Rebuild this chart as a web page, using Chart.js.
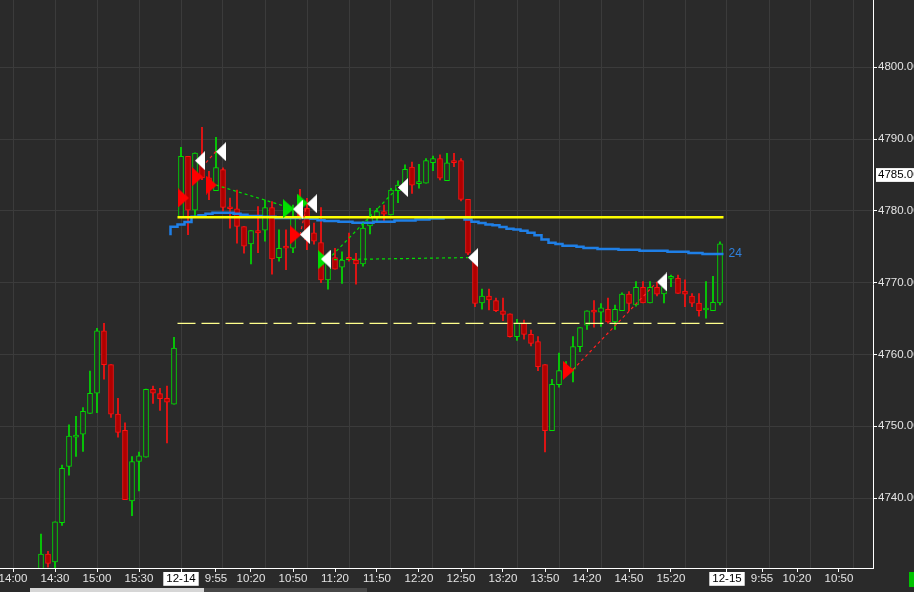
<!DOCTYPE html>
<html>
<head>
<meta charset="utf-8">
<title>5m chart</title>
<script src="https://cdn.jsdelivr.net/npm/chart.js@4.4.1/dist/chart.umd.min.js"></script>
<style>
  html, body { margin: 0; padding: 0; background: #2a2a2a; overflow: hidden; }
  #wrap { width: 914px; height: 592px; position: relative; }
</style>
</head>
<body>
<div id="wrap"><canvas id="grafico"></canvas></div>
<script>
// 5 minute bars. x is the bar number: 0 = 14:00 on 12-13, 24 = 9:30 on 12-14, 102 = 9:30 on 12-15
const firstBar = 4;
const opens = [
  4729.0, 4732.2, 4731.1, 4736.6, 4744.4, 4748.5, 4748.9, 4751.8, 4754.6, 4763.3,
  4758.6, 4751.7, 4749.45, 4739.6, 4745.1, 4745.7, 4755.15, 4754.55, 4753.9, 4753.1,
  4779.1, 4787.6, 4780.1, 4786.4, 4784.6, 4782.8, 4785.75, 4780.5, 4780.3, 4777.8,
  4775.4, 4777.25, 4777.3, 4780.45, 4773.5, 4775.1, 4774.8, 4780.2, 4780.35, 4776.95,
  4775.6, 4770.4, 4773.5, 4772.15, 4773.55, 4773.15, 4772.6, 4777.9, 4779.2, 4779.9,
  4779.45, 4782.8, 4783.45, 4786.1, 4783.8, 4783.85, 4786.7, 4787.3, 4784.2, 4787.0,
  4787.0, 4781.6, 4773.85, 4767.2, 4768.15, 4767.5, 4766.1, 4765.65, 4762.5, 4764.35,
  4762.8, 4761.8, 4758.6, 4749.4, 4755.8, 4757.9, 4757.95, 4761.1, 4764.1, 4766.2,
  4765.9, 4766.3, 4764.55, 4766.1, 4768.4, 4766.9, 4769.35, 4767.2, 4769.35, 4768.45,
  4770.6, 4770.6, 4768.85, 4768.15, 4767.15, 4766.2, 4766.1, 4767.2
];
const highs = [
  4735.0, 4732.6, 4736.7, 4744.6, 4750.2, 4751.4, 4752.6, 4757.7, 4763.65, 4764.35,
  4758.6, 4753.9, 4750.5, 4745.8, 4746.4, 4755.2, 4755.6, 4755.3, 4755.6, 4762.4,
  4788.85, 4787.6, 4788.1, 4791.65, 4785.5, 4790.25, 4786.0, 4781.8, 4782.9, 4777.8,
  4777.25, 4780.6, 4781.5, 4781.3, 4777.35, 4777.35, 4780.8, 4783.0, 4781.75, 4778.3,
  4780.45, 4773.8, 4774.8, 4774.3, 4776.9, 4774.1, 4778.5, 4780.35, 4780.35, 4780.8,
  4783.15, 4784.2, 4786.4, 4786.8, 4786.5, 4787.3, 4787.65, 4787.8, 4788.0, 4788.0,
  4787.3, 4781.6, 4774.0, 4769.1, 4769.1, 4767.85, 4767.85, 4765.65, 4764.9, 4764.8,
  4763.4, 4762.5, 4758.6, 4756.55, 4760.2, 4759.0, 4762.5, 4763.75, 4766.1, 4767.5,
  4767.1, 4767.85, 4766.9, 4768.6, 4768.75, 4770.15, 4770.15, 4770.15, 4770.0, 4770.75,
  4771.05, 4771.05, 4770.4, 4768.5, 4768.5, 4770.15, 4770.9, 4775.7
];
const lows = [
  4728.0, 4730.4, 4729.5, 4736.2, 4743.2, 4745.8, 4746.5, 4751.8, 4751.9, 4756.55,
  4751.25, 4748.5, 4739.8, 4737.55, 4741.0, 4745.7, 4753.2, 4752.2, 4747.7, 4753.1,
  4779.1, 4776.7, 4779.25, 4784.35, 4781.55, 4782.8, 4780.0, 4777.6, 4775.5, 4774.1,
  4772.6, 4774.2, 4775.8, 4771.2, 4773.0, 4771.8, 4774.2, 4778.8, 4774.6, 4775.35,
  4770.0, 4769.1, 4771.9, 4769.9, 4773.0, 4769.8, 4772.3, 4776.8, 4778.5, 4778.5,
  4779.45, 4781.15, 4783.4, 4782.45, 4783.15, 4783.85, 4785.6, 4784.3, 4784.2, 4786.15,
  4781.4, 4773.9, 4766.65, 4766.3, 4766.2, 4765.95, 4764.7, 4762.4, 4761.95, 4762.15,
  4761.2, 4757.75, 4746.45, 4749.4, 4755.45, 4757.2, 4756.2, 4760.4, 4763.5, 4763.8,
  4763.9, 4764.35, 4763.5, 4766.1, 4766.1, 4766.75, 4767.2, 4767.2, 4768.15, 4767.2,
  4769.45, 4768.5, 4766.65, 4766.65, 4765.35, 4765.05, 4766.1, 4766.9
];
const closes = [
  4732.2, 4730.9, 4736.7, 4744.15, 4748.65, 4748.6, 4752.1, 4754.6, 4763.3, 4758.6,
  4751.7, 4749.15, 4739.8, 4745.1, 4745.9, 4755.15, 4754.6, 4753.85, 4753.35, 4760.9,
  4787.6, 4780.1, 4788.05, 4784.6, 4783.6, 4786.05, 4780.5, 4780.3, 4777.85, 4775.1,
  4777.25, 4776.95, 4780.45, 4773.3, 4774.8, 4774.8, 4779.0, 4779.3, 4775.95, 4775.8,
  4770.4, 4773.5, 4771.9, 4773.15, 4773.25, 4772.6, 4777.6, 4779.1, 4779.9, 4779.55,
  4782.9, 4783.6, 4785.8, 4783.6, 4783.9, 4787.0, 4787.3, 4784.55, 4786.7, 4786.7,
  4781.6, 4774.1, 4767.1, 4768.15, 4767.6, 4766.1, 4765.6, 4762.5, 4764.35, 4762.8,
  4761.55, 4758.3, 4749.4, 4755.85, 4757.75, 4758.3, 4761.1, 4763.75, 4766.1, 4765.9,
  4766.5, 4764.55, 4766.3, 4768.4, 4767.1, 4769.35, 4767.2, 4769.35, 4768.4, 4769.45,
  4770.9, 4768.5, 4768.4, 4767.15, 4766.1, 4766.3, 4767.25, 4775.4
];

// moving average, one value per bar starting at bar 23
const maFirst = 23;
const maValues = [
  4776.6, 4777.8, 4778.1, 4778.45, 4779.2, 4779.4, 4779.6, 4779.75, 4779.75, 4779.75,
  4779.6, 4779.45, 4779.3, 4779.3, 4779.2, 4779.2, 4779.0, 4779.0, 4779.0, 4779.0,
  4779.0, 4778.9, 4778.7, 4778.6, 4778.6, 4778.5, 4778.5, 4778.35, 4778.35, 4778.35,
  4778.5, 4778.5, 4778.5, 4778.65, 4778.65, 4778.65, 4778.8, 4778.8, 4778.95, 4778.95,
  4779.1, 4779.1, 4779.1, 4778.8, 4778.5, 4778.3, 4778.1, 4778.0, 4777.75, 4777.5,
  4777.4, 4777.25, 4776.95, 4776.6, 4776.0, 4775.55, 4775.4, 4775.15, 4775.15, 4775.0,
  4774.85, 4774.85, 4774.7, 4774.7, 4774.7, 4774.6, 4774.6, 4774.6, 4774.45, 4774.45,
  4774.45, 4774.45, 4774.3, 4774.3, 4774.3, 4774.15, 4774.15, 4774.0, 4774.0
];
const maLabel = '24';

// horizontal levels for the 12-14 session
const levelHigh = 4779.1;
const levelLow = 4764.35;
const levelFrom = 23.5;
const levelTo = 101.5;

// trade markers [bar, price]
const exitMarks = [[26, 4787.0], [29, 4788.25], [40, 4780.25], [41, 4776.7], [42, 4781.0],
                   [44, 4773.3], [55, 4783.25], [65, 4773.5], [92, 4770.1]];
const sellMarks = [[25, 4781.8], [27, 4784.75], [29, 4783.6], [41, 4776.65], [80, 4757.8]];
const buyMarks = [[40, 4780.3], [42, 4781.1], [45, 4773.2]];
// trade links [bar, price, bar, price]
const winLinks = [[29, 4783.6, 40, 4780.3], [45, 4773.2, 55, 4783.25], [45, 4773.2, 65, 4773.5]];
const lossLinks = [[27, 4786.1, 29, 4788.3], [41, 4776.65, 42, 4781.0], [80, 4757.9, 92, 4770.1]];

// axes
const tickBars = [0, 6, 12, 18, 24, 29, 34, 40, 46, 52, 58, 64, 70, 76, 82, 88, 94, 102, 107, 112, 118];
const tickLabels = ['14:00', '14:30', '15:00', '15:30', '12-14', '9:55', '10:20', '10:50', '11:20', '11:50',
                    '12:20', '12:50', '13:20', '13:50', '14:20', '14:50', '15:20', '12-15', '9:55', '10:20', '10:50'];
const gridBars = [0, 6, 12, 18, 24, 30, 36, 42, 48, 54, 60, 66, 72, 78, 84, 90, 96, 102, 108, 114, 120];
const priceTicks = [4740, 4750, 4760, 4770, 4780, 4790, 4800];
const priceTag = 4785;

const BG = '#2a2a2a';
const GRID = '#3b3b3b';
const TEXT = '#e4e4e4';
const UP = '#00e000';
const DOWN = '#ff1010';
const FONT = "'Liberation Sans', Arial, sans-serif";
const NONE = 'rgba(0,0,0,0)';

Chart.defaults.font.family = FONT;
Chart.defaults.font.size = 11.5;

const candles = opens.map((o, k) => ({ x: firstBar + k, o, h: highs[k], l: lows[k], c: closes[k] }));
const isUp = candles.map(b => b.c >= b.o);

// arrow markers, the tip sits near the centre of the image
function arrowImage(color, pointsLeft) {
  const c = document.createElement('canvas');
  c.width = 24; c.height = 19;
  const g = c.getContext('2d');
  g.fillStyle = color;
  g.beginPath();
  if (pointsLeft) { g.moveTo(12, 9.5); g.lineTo(22, 0); g.lineTo(22, 19); }
  else { g.moveTo(13, 9.5); g.lineTo(2, 0); g.lineTo(2, 19); }
  g.closePath();
  g.fill();
  return c;
}

const linkSet = (links, color) => links.map(([x1, y1, x2, y2]) => ({
  type: 'line',
  data: [{ x: x1, y: y1 }, { x: x2, y: y2 }],
  borderColor: color, borderWidth: 1.2, borderDash: [3, 3],
  pointRadius: 0, order: 1
}));

const markSet = (marks, img) => ({
  type: 'scatter',
  data: marks.map(([x, y]) => ({ x, y })),
  pointStyle: img, pointRadius: 5, order: 0
});

const maPoints = maValues.map((v, k) => ({ x: maFirst + k - 0.5, y: v }));
maPoints.push({ x: maFirst + maValues.length - 0.5, y: maValues[maValues.length - 1] });

const chrome = {
  id: 'chrome',
  beforeDraw(chart) {
    const { ctx, width, height } = chart;
    ctx.save();
    ctx.fillStyle = BG;
    ctx.fillRect(0, 0, width, height);
    ctx.restore();
  },
  afterDraw(chart) {
    const { ctx } = chart;
    const x = chart.scales.x, y = chart.scales.y;
    ctx.save();
    ctx.font = '12px ' + FONT;
    ctx.fillStyle = '#2f80dc';
    ctx.textBaseline = 'middle';
    ctx.fillText(maLabel, x.getPixelForValue(maFirst + maValues.length - 0.5) + 5,
                 y.getPixelForValue(maValues[maValues.length - 1]));
    // scroll bar and corner box
    ctx.fillStyle = '#d6d6d6';
    ctx.fillRect(30, 588, 174, 4);
    ctx.fillStyle = '#474747';
    ctx.fillRect(204, 588, 163, 4);
    ctx.fillStyle = '#00c400';
    ctx.fillRect(909, 572, 5, 15);
    ctx.restore();
  }
};

const isDate = c => String(c.tick && c.tick.label).indexOf('-') > 0;
const isTag = c => c.tick && c.tick.value === priceTag;

new Chart(document.getElementById('grafico'), {
  type: 'bar',
  data: {
    datasets: [
      markSet(exitMarks, arrowImage('#ffffff', true)),
      markSet(sellMarks, arrowImage('#ff0000', false)),
      markSet(buyMarks, arrowImage('#00e000', false)),
      ...linkSet(winLinks, '#00e000'),
      ...linkSet(lossLinks, '#ff2020'),
      {
        type: 'line',
        data: [{ x: levelFrom, y: levelHigh }, { x: levelTo, y: levelHigh }],
        borderColor: '#ffff00', borderWidth: 2.5, pointRadius: 0, order: 2
      },
      {
        type: 'line', data: maPoints, stepped: 'after',
        borderColor: '#1f7fe6', borderWidth: 2.5, pointRadius: 0, order: 3
      },
      {
        type: 'line',
        data: [{ x: levelFrom, y: levelLow }, { x: levelTo, y: levelLow }],
        borderColor: '#ffff8c', borderWidth: 1.2, borderDash: [18, 6], pointRadius: 0, order: 4
      },
      {
        // candle bodies
        data: candles.map(b => ({ x: b.x, y: [b.o, b.c] })),
        backgroundColor: isUp.map(u => u ? BG : '#b00000'),
        borderColor: isUp.map(u => u ? UP : DOWN),
        borderWidth: 1, borderSkipped: false, barThickness: 5, minBarLength: 2,
        grouped: false, order: 5
      },
      {
        // wicks
        data: candles.map(b => ({ x: b.x, y: [b.l, b.h] })),
        backgroundColor: isUp.map(u => u ? UP : DOWN),
        borderWidth: 0, barThickness: 1, grouped: false, order: 6
      }
    ]
  },
  options: {
    responsive: true,
    maintainAspectRatio: false,
    animation: false,
    layout: { padding: 0, autoPadding: false },
    plugins: { legend: { display: false }, tooltip: { enabled: false } },
    scales: {
      x: {
        type: 'linear', position: 'bottom', min: -13 / 7, max: 860 / 7, offset: false,
        afterBuildTicks: s => { s.ticks = tickBars.map(v => ({ value: v })); },
        afterFit: s => { s.height = 24; s.paddingLeft = 0; s.paddingRight = 0; },
        grid: { drawOnChartArea: false, tickLength: 4, tickColor: '#ffffff', offset: false },
        border: { color: '#ffffff', width: 1 },
        ticks: {
          autoSkip: false, maxRotation: 0, padding: 0,
          callback: v => tickLabels[tickBars.indexOf(v)],
          color: c => isDate(c) ? '#000000' : TEXT,
          showLabelBackdrop: c => isDate(c),
          backdropColor: '#ffffff',
          backdropPadding: { top: 0, bottom: 0, left: 3, right: 3 }
        }
      },
      xg: {
        type: 'linear', position: 'bottom', min: -13 / 7, max: 860 / 7, offset: false,
        afterBuildTicks: s => { s.ticks = gridBars.map(v => ({ value: v })); },
        afterFit: s => { s.height = 0; s.paddingLeft = 0; s.paddingRight = 0; },
        grid: { color: GRID, drawTicks: false, offset: false },
        border: { display: false },
        ticks: { display: false }
      },
      y: {
        position: 'right', min: 4730.27, max: 4809.37, beginAtZero: false,
        afterBuildTicks: s => {
          s.ticks = priceTicks.concat(priceTag).sort((a, b) => a - b).map(v => ({ value: v }));
        },
        afterFit: s => { s.width = 41; s.paddingTop = 0; s.paddingBottom = 0; },
        grid: {
          color: c => isTag(c) ? NONE : GRID,
          tickColor: c => isTag(c) ? NONE : '#ffffff',
          tickLength: 4
        },
        border: { color: '#ffffff', width: 1 },
        ticks: {
          autoSkip: false, padding: 1,
          callback: v => v.toFixed(2),
          color: c => isTag(c) ? '#000000' : TEXT,
          showLabelBackdrop: c => isTag(c),
          backdropColor: '#ffffff',
          backdropPadding: { top: 0, bottom: 0, left: 2, right: 12 }
        }
      }
    }
  },
  plugins: [chrome]
});
</script>
</body>
</html>
